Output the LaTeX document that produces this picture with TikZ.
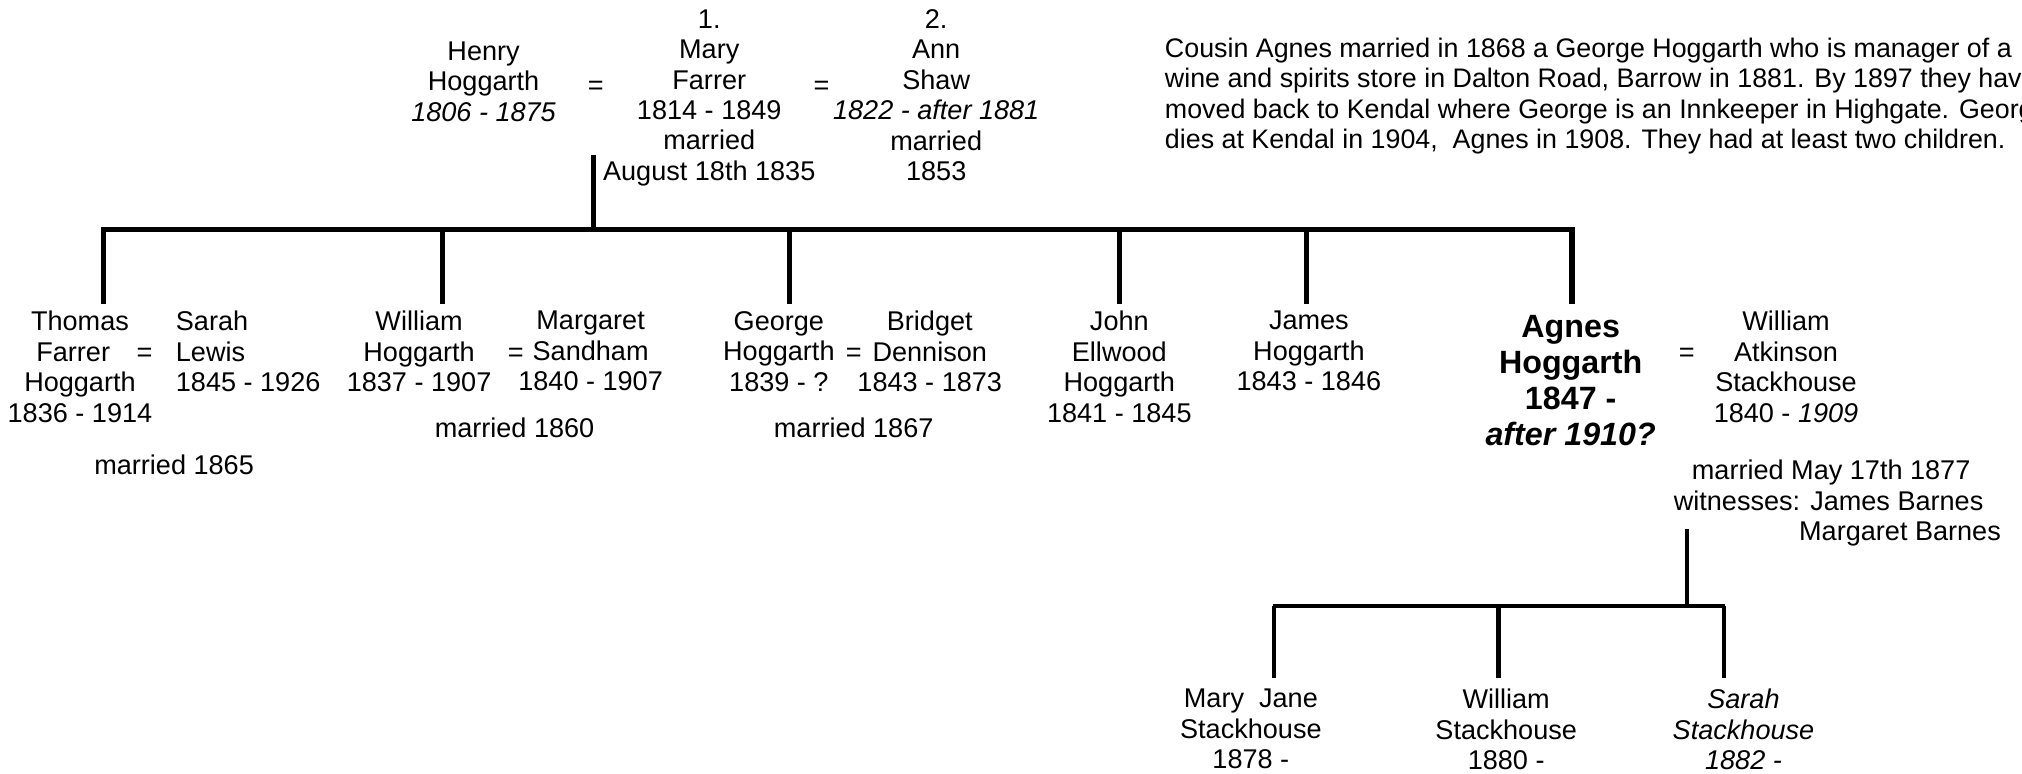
\documentclass[tikz,border=0pt]{standalone}
\usepackage{fontspec}
\setmainfont{Liberation Sans}
\begin{document}
\begin{tikzpicture}[x=0.5pt,y=-0.5pt]
\tikzset{
  pt/.style={font=\fontsize{10.5}{11.8}\selectfont, align=center, inner sep=0pt, anchor=north},
  ptl/.style={pt, align=left, anchor=north west},
  eqs/.style={font=\fontsize{10.5}{11.8}\selectfont, inner sep=0pt, anchor=center},
  big/.style={font=\fontsize{12.5}{14}\selectfont\bfseries, align=center, inner sep=0pt, anchor=north},
  ln/.style={line width=2pt, line cap=butt},
  lns/.style={line width=1.6pt, line cap=butt},
}
\useasboundingbox (0,0) rectangle (1568,600);
\clip (0,0) rectangle (1568,600);
% top generation
\node[pt] (henry) at (375,32) {Henry\\Hoggarth\\\textit{1806 - 1875}};
\node[eqs] (eq1) at (462,68) {=};
\node[pt] (mary) at (550,7) {1.\\Mary\\Farrer\\1814 - 1849\\married\\August 18th 1835};
\node[eqs] (eq2) at (637,68) {=};
\node[pt] (ann) at (726,7) {2.\\Ann\\Shaw\\\textit{1822 - after 1881}\\married\\1853};
\node[ptl, font=\fontsize{10.4}{11.8}\selectfont] (note) at (903,29) {Cousin Agnes married in 1868 a George Hoggarth who is manager of a\\wine and spirits store in Dalton Road, Barrow in 1881. By 1897 they have\\moved back to Kendal where George is an Innkeeper in Highgate. George\\dies at Kendal in 1904, \ Agnes in 1908. They had at least two children.};
% tree lines
\coordinate (p1) at (460,120);
\coordinate (b1) at (460,178);
\coordinate (bL) at (78,178);
\coordinate (bR) at (1221,178);
\draw[ln] (p1) -- (b1);
\draw[ln] (bL) -- (bR);
\foreach \n/\x in {dT/80, dW/343, dG/612, dJ/868, dJa/1013, dA/1219}{
  \coordinate (\n t) at (\x,178);
  \coordinate (\n b) at (\x,236);
  \draw[ln] (\n t) -- (\n b);
}
% children
\node[pt] (thomas) at (62,241) {Thomas\\\phantom{x}Farrer\phantom{xx}\\Hoggarth\\1836 - 1914};
\node[eqs] (eqT) at (112,275) {=};
\node[ptl] (sarah) at (136,241) {Sarah\\Lewis\\1845 - 1926};
\node[pt] (marT) at (135,352) {married 1865};
\node[pt] (william) at (325,241) {William\\Hoggarth\\1837 - 1907};
\node[eqs] (eqW) at (400,275) {=};
\node[pt] (margaret) at (458,241) {Margaret\\Sandham\\1840 - 1907};
\node[pt] (marW) at (399,324) {married 1860};
\node[pt] (george) at (604,241) {George\\Hoggarth\\1839 - ?};
\node[eqs] (eqG) at (662,275) {=};
\node[pt] (bridget) at (721,241) {Bridget\\Dennison\\1843 - 1873};
\node[pt] (marG) at (662,324) {married 1867};
\node[pt] (john) at (868,241) {John\\Ellwood\\Hoggarth\\1841 - 1845};
\node[pt] (james) at (1015,241) {James\\Hoggarth\\1843 - 1846};
\node[big] (agnes) at (1218,244) {Agnes\\Hoggarth\\1847 -\\\textit{after 1910?}};
\node[eqs] (eqA) at (1308,275) {=};
\node[pt] (wstack) at (1385,241) {William\\Atkinson\\Stackhouse\\1840 - \textit{1909}};
\node[pt] (marA) at (1420,356) {married May 17th 1877};
\node[pt] (wit1) at (1418,380) {witnesses: James Barnes};
\node[pt, anchor=north east] (wit2) at (1552,404) {Margaret Barnes};
% second tree
\coordinate (p2) at (1308,410);
\coordinate (b2) at (1308,470);
\coordinate (cL) at (987,470);
\coordinate (cR) at (1338,470);
\draw[lns] (p2) -- (b2);
\draw[lns] (cL) -- (cR);
\foreach \n/\x in {dM/988, dWS/1162, dS/1337}{
  \coordinate (\n t) at (\x,470);
  \coordinate (\n b) at (\x,526);
  \draw[lns] (\n t) -- (\n b);
}
\node[pt] (maryjane) at (970,534) {Mary \ Jane\\Stackhouse\\1878 -};
\node[pt] (wstack2) at (1168,534) {William\\Stackhouse\\1880 -};
\node[pt] (sarahS) at (1352,534) {\textit{Sarah}\\\textit{Stackhouse}\\\textit{1882 -}};
\end{tikzpicture}
\end{document}
